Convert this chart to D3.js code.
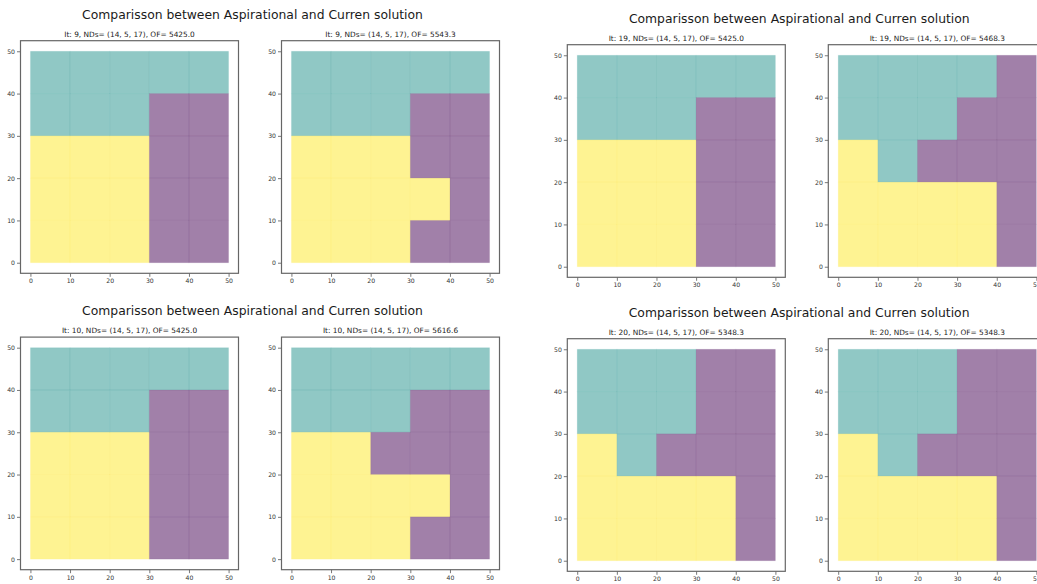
<!DOCTYPE html>
<html>
<head>
<meta charset="utf-8">
<script src="https://cdn.jsdelivr.net/npm/d3@7"></script>
<style>
  html, body { margin: 0; padding: 0; background: #fff; }
  svg { display: block; }
  text { font-family: "DejaVu Sans", sans-serif; }
</style>
</head>
<body>
<svg id="chart" width="1037" height="584"></svg>
<script>
// ---------------- DATA ----------------
const figureTitle = "Comparisson between Aspirational and Curren solution";
const iterations = [9, 19, 10, 20];
const ndsLabel = "(14, 5, 17)";
const ofAspirational = [5425.0, 5425.0, 5425.0, 5348.3];
const ofCurrent = [5543.3, 5468.3, 5616.6, 5348.3];
const tickLabels = [0, 10, 20, 30, 40, 50];
const categories = [0, 1, 2]; // viridis classes: 0 = purple, 1 = teal, 2 = yellow
// grids: rows from top (y 40-50) to bottom (y 0-10), columns x 0-10 ... 40-50
const gridsAspirational = [
  [[1,1,1,1,1],[1,1,1,0,0],[2,2,2,0,0],[2,2,2,0,0],[2,2,2,0,0]],
  [[1,1,1,1,1],[1,1,1,0,0],[2,2,2,0,0],[2,2,2,0,0],[2,2,2,0,0]],
  [[1,1,1,1,1],[1,1,1,0,0],[2,2,2,0,0],[2,2,2,0,0],[2,2,2,0,0]],
  [[1,1,1,0,0],[1,1,1,0,0],[2,1,0,0,0],[2,2,2,2,0],[2,2,2,2,0]]
];
const gridsCurrent = [
  [[1,1,1,1,1],[1,1,1,0,0],[2,2,2,0,0],[2,2,2,2,0],[2,2,2,0,0]],
  [[1,1,1,1,0],[1,1,1,0,0],[2,1,0,0,0],[2,2,2,2,0],[2,2,2,2,0]],
  [[1,1,1,1,1],[1,1,1,0,0],[2,2,0,0,0],[2,2,2,2,0],[2,2,2,0,0]],
  [[1,1,1,0,0],[1,1,1,0,0],[2,1,0,0,0],[2,2,2,2,0],[2,2,2,2,0]]
];

// ---------------- LAYOUT / STYLE ----------------
const figOrigins = [[0, 0], [546.8, 4], [0, 296.4], [546.8, 298]];
const frameW = 218, frameH = 232.6;
const frameX = [20.5, 281.5];   // subplot frame left, relative to figure
const frameY = 40.7;            // subplot frame top, relative to figure
const titleX = [252.5, 252.5, 252.5, 252.3];
const colors = d3.scaleOrdinal().domain(categories).range(["#440154", "#21918c", "#fde725"]);

const svg = d3.select("#chart");
svg.append("rect").attr("width", 1037).attr("height", 584).attr("fill", "#fff");

// font sizes fitted to measured widths
function fitSize(str, target, probe) {
  const t = svg.append("text").attr("font-size", probe).text(str);
  const w = t.node().getComputedTextLength();
  t.remove();
  return probe * target / w;
}
const titleSize = fitSize(figureTitle, 341, 20);
const subSize = fitSize("It: 9, NDs= (14, 5, 17), OF= 5425.0", 130.7, 20);
const tickSize = subSize * 10 / 12;

const x = d3.scaleLinear().domain([-2.5, 52.5]).range([0, frameW]);
const y = d3.scaleLinear().domain([-2.5, 52.5]).range([frameH, 0]);

iterations.forEach((it, fi) => {
  const [ox, oy] = figOrigins[fi];
  const fig = svg.append("g").attr("transform", `translate(${ox},${oy})`);

  fig.append("text")
    .attr("x", titleX[fi]).attr("y", frameY - 22)
    .attr("text-anchor", "middle")
    .attr("font-size", titleSize)
    .attr("fill", "#1a1a1a")
    .text(figureTitle);

  const panels = [
    { grid: gridsAspirational[fi], of: ofAspirational[fi] },
    { grid: gridsCurrent[fi], of: ofCurrent[fi] }
  ];

  panels.forEach((p, pi) => {
    const g = fig.append("g").attr("transform", `translate(${frameX[pi]},${frameY})`);

    g.append("text")
      .attr("x", frameW / 2).attr("y", -4)
      .attr("text-anchor", "middle")
      .attr("font-size", subSize)
      .attr("fill", "#1a1a1a")
      .text(`It: ${it}, NDs= ${ndsLabel}, OF= ${p.of.toFixed(1)}`);

    const cells = [];
    p.grid.forEach((row, r) => row.forEach((v, c) => {
      cells.push({ x0: c * 10, x1: c * 10 + 10, y0: (4 - r) * 10, y1: (4 - r) * 10 + 10, v });
    }));

    g.selectAll("rect.cell").data(cells).join("rect")
      .attr("class", "cell")
      .attr("x", d => x(d.x0))
      .attr("y", d => y(d.y1))
      .attr("width", d => x(d.x1) - x(d.x0))
      .attr("height", d => y(d.y0) - y(d.y1))
      .attr("fill", d => colors(d.v))
      .attr("fill-opacity", 0.5)
      .attr("stroke", d => colors(d.v))
      .attr("stroke-opacity", 0.07)
      .attr("stroke-width", 1);

    const xAxis = g.append("g").attr("transform", `translate(0,${frameH})`)
      .call(d3.axisBottom(x).tickValues(tickLabels).tickSize(3.5).tickPadding(2).tickFormat(d3.format("d")));
    const yAxis = g.append("g")
      .call(d3.axisLeft(y).tickValues(tickLabels).tickSize(3.5).tickPadding(2).tickFormat(d3.format("d")));
    [xAxis, yAxis].forEach(a => {
      a.select(".domain").remove();
      a.selectAll("line").attr("stroke", "#555").attr("stroke-width", 0.8);
      a.selectAll("text").attr("font-size", tickSize).attr("fill", "#333")
        .attr("font-family", "DejaVu Sans, sans-serif");
    });

    g.append("rect")
      .attr("x", 0).attr("y", 0).attr("width", frameW).attr("height", frameH)
      .attr("fill", "none").attr("stroke", "#666").attr("stroke-width", 1.2);
  });
});
</script>
</body>
</html>
